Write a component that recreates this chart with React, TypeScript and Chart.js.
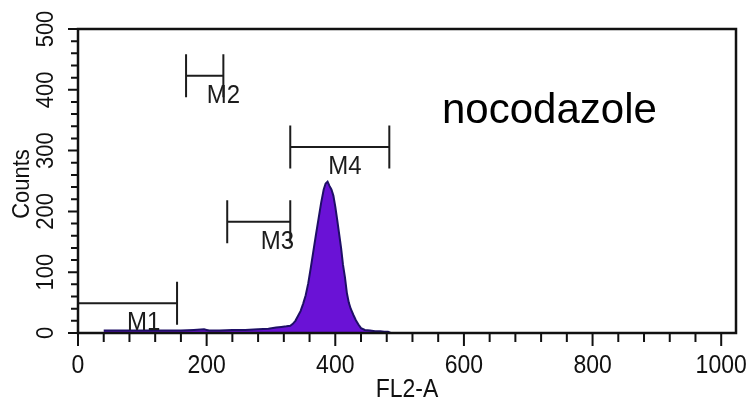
import React, { useEffect, useRef } from 'react';
import { Chart, registerables } from 'chart.js';

Chart.register(...registerables);

// Histogram (FL2-A channel vs counts)
const histChannels = [40, 60, 80, 100, 120, 140, 160, 180, 196, 200, 204, 220, 240, 260, 280, 296, 308, 316, 324, 330, 334, 338, 342, 346, 350, 354, 358, 362, 366, 370, 374, 378, 382, 385, 388, 391, 394, 397, 400, 403, 406, 409, 412, 415, 418, 421, 424, 428, 432, 436, 440, 446, 454, 462, 470, 476, 482, 486];
const histCounts = [4, 4, 4, 4, 4, 4, 4, 5, 6, 5, 4, 4, 5, 5, 6, 7, 9, 10, 11, 12, 15, 20, 28, 36, 48, 62, 82, 108, 135, 162, 188, 214, 236, 246, 249, 242, 236, 226, 208, 186, 163, 140, 112, 92, 66, 50, 40, 30, 21, 14, 8, 5, 4, 3, 3, 2, 2, 0];

// Markers
const markerNames = ['M1', 'M2', 'M3', 'M4'];
const markerStart = [0, 168, 232, 330];
const markerEnd = [154, 226, 330, 484];
const markerLevel = [49, 423, 183, 306];
const markerLabelAt = [102, 226, 310, 415];

// Axes
const xTickValues = [0, 200, 400, 600, 800, 1000];
const xTickLabels = ['0', '200', '400', '600', '800', '1000'];
const yTickValues = [0, 100, 200, 300, 400, 500];
const yTickLabels = ['0', '100', '200', '300', '400', '500'];
const xMinorStep = 40;
const yMinorStep = 20;
const xAxisTitle = 'FL2-A';
const yAxisTitle = 'Counts';
const sampleLabel = 'nocodazole';

const FONT = '"Liberation Sans", Arial, Helvetica, sans-serif';

function tallText(ctx: any, text: string, px: number, py: number, sy: number) {
  ctx.save();
  ctx.translate(px, py);
  ctx.scale(1, sy);
  ctx.fillText(text, 0, 0);
  ctx.restore();
}

const overlayPlugin = {
  id: 'facsOverlay',
  afterDatasetsDraw(chart: any) {
    const { ctx, scales } = chart;
    const x = scales.x;
    const y = scales.y;
    ctx.save();
    ctx.strokeStyle = '#1c1c1c';
    ctx.lineWidth = 2;
    ctx.fillStyle = '#1c1c1c';
    ctx.font = `24px ${FONT}`;
    ctx.textAlign = 'center';
    ctx.textBaseline = 'middle';
    markerNames.forEach((name, i) => {
      const x0 = x.getPixelForValue(markerStart[i]);
      const x1 = x.getPixelForValue(markerEnd[i]);
      const yy = y.getPixelForValue(markerLevel[i]);
      const h = 21.5;
      ctx.beginPath();
      ctx.moveTo(x0, yy);
      ctx.lineTo(x1, yy);
      ctx.moveTo(x0, yy - h);
      ctx.lineTo(x0, yy + h);
      ctx.moveTo(x1, yy - h);
      ctx.lineTo(x1, yy + h);
      ctx.stroke();
      tallText(ctx, name, x.getPixelForValue(markerLabelAt[i]), yy + 20, 1.05);
    });
    ctx.restore();
  },
  afterDraw(chart: any) {
    const { ctx, chartArea: a, scales } = chart;
    const x = scales.x;
    const y = scales.y;
    ctx.save();
    // frame
    ctx.strokeStyle = '#111';
    ctx.lineWidth = 2.5;
    ctx.strokeRect(a.left, a.top, a.right - a.left, a.bottom - a.top);

    // ticks
    ctx.lineWidth = 2;
    ctx.beginPath();
    for (let v = 0; v <= x.max; v += xMinorStep) {
      const px = x.getPixelForValue(v);
      const major = xTickValues.includes(v);
      ctx.moveTo(px, a.bottom);
      ctx.lineTo(px, a.bottom + (major ? 13 : 9));
    }
    for (let v = 0; v <= y.max; v += yMinorStep) {
      const py = y.getPixelForValue(v);
      const major = yTickValues.includes(v);
      ctx.moveTo(a.left, py);
      ctx.lineTo(a.left - (major ? 10 : 7), py);
    }
    ctx.stroke();

    // tick labels
    ctx.fillStyle = '#111';
    ctx.font = `23px ${FONT}`;
    ctx.textAlign = 'center';
    ctx.textBaseline = 'middle';
    xTickValues.forEach((v, i) => {
      tallText(ctx, xTickLabels[i], x.getPixelForValue(v), a.bottom + 33, 1.12);
    });
    ctx.font = `22px ${FONT}`;
    yTickValues.forEach((v, i) => {
      ctx.save();
      ctx.translate(a.left - 32, y.getPixelForValue(v));
      ctx.rotate(-Math.PI / 2);
      ctx.scale(1, 1.1);
      ctx.fillText(yTickLabels[i], 0, 0);
      ctx.restore();
    });

    // axis titles
    ctx.font = `23px ${FONT}`;
    tallText(ctx, xAxisTitle, (a.left + a.right) / 2, a.bottom + 57, 1.1);
    ctx.save();
    ctx.translate(22, (a.top + a.bottom) / 2 + 3);
    ctx.rotate(-Math.PI / 2);
    ctx.scale(1, 1.1);
    ctx.font = `22px ${FONT}`;
    ctx.fillText(yAxisTitle, 0, 0);
    ctx.restore();

    // sample label
    ctx.font = `42px ${FONT}`;
    ctx.textAlign = 'left';
    ctx.textBaseline = 'alphabetic';
    ctx.fillStyle = '#000';
    ctx.fillText(sampleLabel, 442, 123);
    ctx.restore();
  },
};

export default function App() {
  const canvasRef = useRef<HTMLCanvasElement | null>(null);

  useEffect(() => {
    const canvas = canvasRef.current;
    if (!canvas) return;
    const chart = new Chart(canvas, {
      type: 'line',
      data: {
        datasets: [
          {
            label: 'FL2-A histogram',
            data: histChannels.map((c, i) => ({ x: c, y: histCounts[i] })),
            borderColor: '#1e0f66',
            backgroundColor: '#6a12d6',
            borderWidth: 2,
            fill: 'origin',
            pointRadius: 0,
            tension: 0,
          },
        ],
      },
      options: {
        animation: false,
        responsive: false,
        maintainAspectRatio: false,
        devicePixelRatio: 1,
        layout: { padding: { left: 78, top: 29, right: 14, bottom: 69 } },
        plugins: {
          legend: { display: false },
          tooltip: { enabled: false },
        },
        scales: {
          x: { type: 'linear', min: 0, max: 1023, display: false },
          y: { type: 'linear', min: 0, max: 500, display: false },
        },
      },
      plugins: [overlayPlugin],
    });
    return () => chart.destroy();
  }, []);

  return (
    <div style={{ position: 'fixed', left: 0, top: 0, width: 750, height: 402, background: '#fff' }}>
      <canvas ref={canvasRef} width={750} height={402} />
    </div>
  );
}
